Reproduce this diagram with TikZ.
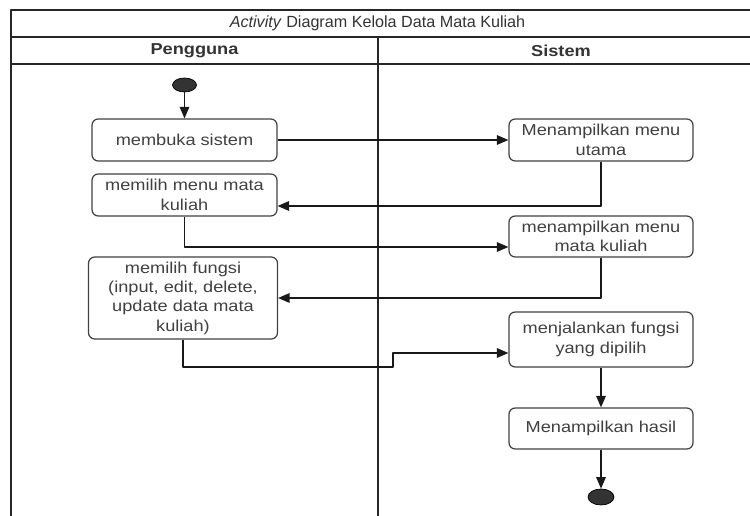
\documentclass[tikz,border=0pt]{standalone}
\usepackage{fontspec}
\setmainfont[FakeStretch=1.15]{Liberation Sans}
\newfontfamily\judulfont{Liberation Sans}
\usetikzlibrary{arrows.meta,shapes.geometric}

\begin{document}
\begin{tikzpicture}[x=0.02cm,y=-0.02cm, line join=round,
        >={Triangle[length=6.5pt,width=5.4pt]},
        lane/.style={draw=black!85, line width=0.75pt},
        head/.style={text=black!80, font=\fontsize{9}{11}\selectfont},
        act/.style={draw=black!75, line width=0.7pt, rounded corners=3.5pt, align=center,
            text=black!75, font=\fontsize{9}{11}\selectfont, inner sep=0pt},
        dot/.style={ellipse, draw=black, fill=black!80, inner sep=0pt},
        flow/.style={->, draw=black!90, line width=0.75pt}]
    \useasboundingbox (0,0) rectangle (750,516);
    % swimlane frame
    \draw[lane] (750,10) -- (11,10) -- (11,516);
    \draw[lane] (11,37) -- (750,37) (11,64) -- (750,64) (378,37) -- (378,516);
    \node[head, font=\fontsize{9.2}{11}\judulfont] (judul) at (377.5,23.5) {\textit{Activity} Diagram Kelola Data Mata Kuliah};
    \node[head, font=\fontsize{9}{11}\selectfont\bfseries] (pengguna) at (194.5,50.5) {Pengguna};
    \node[head, font=\fontsize{9}{11}\selectfont\bfseries] (sistem) at (561,50.5) {Sistem};
    % start / end
    \node[dot, minimum width=0.48cm, minimum height=0.28cm] (mulai) at (184.5,85) {};
    \node[dot, minimum width=0.52cm, minimum height=0.32cm] (selesai) at (601,497) {};
    % Pengguna
    \node[act, minimum width=3.7cm, minimum height=0.84cm] (buka) at (184.5,140) {membuka sistem};
    \node[act, minimum width=3.7cm, minimum height=0.84cm] (pilihmenu) at (184.5,195) {memilih menu mata\\kuliah};
    \node[act, minimum width=3.78cm, minimum height=1.64cm] (pilihfungsi) at (183,298) {memilih fungsi\\(input, edit, delete,\\update data mata\\kuliah)};
    % Sistem
    \node[act, minimum width=3.68cm, minimum height=0.84cm] (menuutama) at (601,140) {Menampilkan menu\\utama};
    \node[act, minimum width=3.68cm, minimum height=0.82cm] (menumk) at (601,236.5) {menampilkan menu\\mata kuliah};
    \node[act, minimum width=3.68cm, minimum height=1.1cm] (jalan) at (601,339.5) {menjalankan fungsi\\yang dipilih};
    \node[act, minimum width=3.68cm, minimum height=0.82cm] (hasil) at (601,428.5) {Menampilkan hasil};
    \coordinate (belok) at (393,367);
    % alur
    \draw[flow] (mulai) -- (buka);
    \draw[flow] (buka) -- (menuutama);
    \draw[flow] (menuutama.south) |- ([yshift=-0.22cm]pilihmenu.east);
    \draw[flow] (pilihmenu.south) |- ([yshift=-0.21cm]menumk.west);
    \draw[flow] (menumk.south) |- (pilihfungsi.east);
    \draw[flow] (pilihfungsi.south) |- (belok) |- ([yshift=-0.27cm]jalan.west);
    \draw[flow] (jalan) -- (hasil);
    \draw[flow] (hasil) -- (selesai);
\end{tikzpicture}
\end{document}
